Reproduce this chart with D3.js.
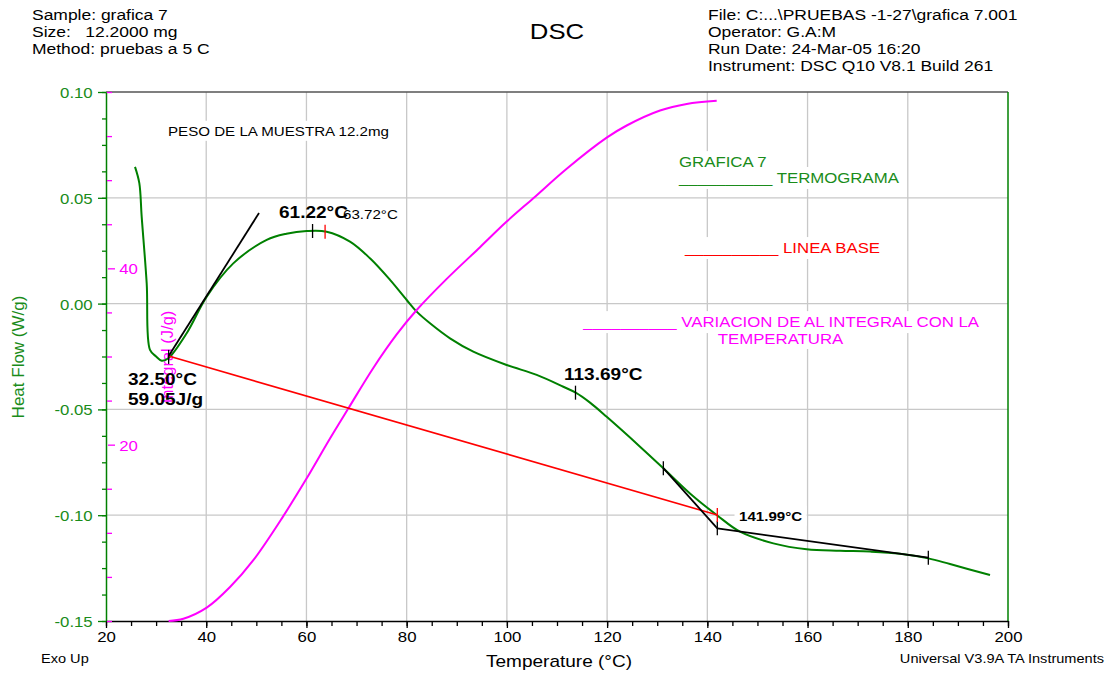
<!DOCTYPE html>
<html><head><meta charset="utf-8">
<script src="https://cdn.jsdelivr.net/npm/d3@7"></script>
<style>
body{margin:0;background:#fff}
svg{display:block}
text{font-family:"Liberation Sans",Arial,Helvetica,sans-serif}
</style>
</head><body>
<svg id="c" width="1114" height="675"></svg>
<script>
// ---------------- data ----------------
const heatT = [25.79, 26.65, 27.12, 28.12, 28.78, 30.0, 31.12, 32.45, 36.1, 40.10, 45.40, 52.07, 56.0, 60.05, 64.04, 68.69, 72.68, 76.68, 80.01, 82.00, 84.66, 88.65, 93.30, 99.96, 105.95, 111.26, 113.73, 116.59, 119.92, 126.57, 131.22, 136.54, 141.87, 146.52, 153.17, 159.83, 166.48, 172.5, 178.45, 184.10, 188.43, 196.41];
const heatW = [0.0646, 0.0569, 0.0411, 0.0096, -0.0219, -0.0250, -0.0270, -0.0258, -0.0140, 0.0033, 0.0190, 0.0301, 0.0330, 0.0343, 0.0340, 0.0293, 0.0214, 0.0112, 0.0017, -0.0038, -0.0093, -0.0164, -0.0227, -0.0290, -0.0337, -0.0393, -0.0421, -0.0468, -0.0535, -0.0676, -0.0778, -0.0897, -0.0999, -0.1078, -0.1133, -0.1161, -0.1168, -0.1172, -0.1182, -0.1204, -0.1231, -0.1283];

const intT = [32.5, 35.43, 40.10, 44.75, 49.40, 55.38, 60.05, 64.70, 68.35, 73.34, 78.01, 82.00, 87.99, 94.64, 99.96, 105.27, 111.94, 119.92, 123.91, 130.56, 135.88, 141.87];
const intJ = [0, 0.25, 1.51, 3.85, 6.9, 11.9, 16.18, 20.7, 24.1, 28.7, 32.5, 35.27, 38.8, 42.4, 45.3, 47.95, 51.3, 54.82, 56.2, 57.9, 58.65, 59.01];

const xTicks = [20, 40, 60, 80, 100, 120, 140, 160, 180, 200];
const xMinor = d3.range(20, 201, 5);
const yTicks = [-0.15, -0.10, -0.05, 0.00, 0.05, 0.10];
const yMinor = d3.range(-0.15, 0.1001, 0.0125);
const intTicks = d3.range(0, 61, 5);
const intLabels = [20, 40];

const baseT = [32.5, 141.99];
const baseW = [-0.0248, -0.0999];
const tangentT = [[32.5, 50.53], [131.22, 141.99], [141.99, 184.1]];
const tangentW = [[-0.0248, 0.0428], [-0.0778, -0.1062], [-0.1062, -0.1201]];
const blackMarkT = [32.5, 61.22, 113.69, 131.22, 141.99, 184.1];
const blackMarkW = [-0.0252, 0.0343, -0.0421, -0.0778, -0.1062, -0.1201];
const redMarkT = [63.72, 141.99];
const redMarkW = [0.0340, -0.0999];

const headerLeft = ["Sample: grafica 7", "Size:   12.2000 mg", "Method: pruebas a 5 C"];
const headerRight = ["File: C:...\\PRUEBAS -1-27\\grafica 7.001", "Operator: G.A:M", "Run Date: 24-Mar-05 16:20", "Instrument: DSC Q10 V8.1 Build 261"];

// annotation texts anchored in data coordinates (T, W/g)
const noteText = ["63.72°C", "61.22°C", "32.50°C", "59.05J/g", "113.69°C", "141.99°C"];
const noteT = [67.30, 54.52, 24.39, 24.39, 111.40, 146.32];
const noteW = [0.0402, 0.0405, -0.0385, -0.0479, -0.0359, -0.1027];

// ---------------- setup ----------------
const SX = 1.12;
const svg = d3.select("#c");
const x = d3.scaleLinear().domain([20, 200]).range([106, 1008]);
const y = d3.scaleLinear().domain([-0.15, 0.10]).range([621, 92]);
const yi = d3.scaleLinear().domain([0, 60]).range([621, 92]);

const GREEN = "#008000", GTEXT = "#1a8c1a", MAG = "#ff00ff", RED = "#ff0000";

function label(g, xp, yp, str, o) {
  const grp = g.append("g").attr("transform", `translate(${xp},${yp}) scale(${o.sx ?? SX},1)`);
  const t = grp.append("text")
    .attr("text-anchor", o.anchor || "start")
    .attr("font-size", o.size)
    .attr("font-weight", o.weight || "normal")
    .attr("fill", o.fill || "#000")
    .style("white-space", "pre")
    .attr("xml:space", "preserve")
    .text(str);
  if (o.bg) {
    const b = t.node().getBBox();
    grp.insert("rect", "text").attr("x", b.x - 4).attr("y", b.y - 3)
      .attr("width", b.width + 8).attr("height", b.height + 5).attr("fill", "#fff");
  }
  return grp;
}

// ---------------- header ----------------
headerLeft.forEach((s, i) => label(svg, 32, 20 + i * 17, s, {size: 15, sx: 1.165}));
headerRight.forEach((s, i) => label(svg, 708, 20 + i * 17, s, {size: 15, sx: 1.165}));
label(svg, 557, 39, "DSC", {size: 23, anchor: "middle"});

// ---------------- grid ----------------
const grid = svg.append("g");
grid.selectAll("line.v").data(xTicks.filter(d => d > 20 && d < 200)).join("line")
  .attr("x1", d => x(d)).attr("x2", d => x(d)).attr("y1", y(0.10)).attr("y2", y(-0.15))
  .attr("stroke", "#c8c8c8").attr("stroke-width", 1.3);
grid.selectAll("line.h").data(yTicks.filter(d => d > -0.15 && d < 0.10)).join("line")
  .attr("x1", x(20)).attr("x2", x(200)).attr("y1", d => y(d)).attr("y2", d => y(d))
  .attr("stroke", "#c8c8c8").attr("stroke-width", 1.3);

// ---------------- text with white background ----------------
const bgT = svg.append("g");
label(bgT, x(32.37), y(0.0792), "PESO DE LA MUESTRA 12.2mg", {size: 13.5, bg: true});
label(bgT, x(134.35), y(0.0644), "GRAFICA 7", {size: 15, fill: GTEXT, bg: true});
label(bgT, x(134.35), y(0.0569), "__________ TERMOGRAMA", {size: 15, fill: GTEXT, bg: true});
label(bgT, x(135.55), y(0.0238), "__________ LINEA BASE", {size: 15, fill: RED, bg: true});
label(bgT, x(115.25), y(-0.0112), "__________ VARIACION DE AL INTEGRAL CON LA", {size: 15, fill: MAG, bg: true});
label(bgT, x(142.07), y(-0.0192), "TEMPERATURA", {size: 15, fill: MAG, bg: true});

// ---------------- frame ----------------
svg.append("line").attr("x1", x(20)).attr("x2", x(200)).attr("y1", y(0.10)).attr("y2", y(0.10))
  .attr("stroke", "#555").attr("stroke-width", 1.3);
svg.append("line").attr("x1", x(200)).attr("x2", x(200)).attr("y1", y(0.10)).attr("y2", y(-0.15))
  .attr("stroke", GREEN).attr("stroke-width", 1.5);

// ---------------- axes ----------------
const gx = svg.append("g").attr("transform", `translate(0,${y(-0.15)})`);
gx.call(d3.axisBottom(x).tickValues(xMinor).tickSize(5).tickSizeOuter(0).tickFormat(""));
gx.call(g => g.selectAll(".tick line").attr("stroke", "#000").attr("stroke-width", 1.3));
const gx2 = svg.append("g").attr("transform", `translate(0,${y(-0.15)})`);
gx2.call(d3.axisBottom(x).tickValues(xTicks).tickSize(7).tickSizeOuter(0).tickFormat(d => String(d)));
gx2.call(g => {
  g.select(".domain").attr("stroke", "#000").attr("stroke-width", 1.5);
  g.selectAll(".tick line").attr("stroke", "#000").attr("stroke-width", 1.3);
  g.selectAll(".tick text").attr("y", 21).attr("dy", 0).attr("font-size", 15)
    .attr("font-family", null).attr("fill", "#000")
    .attr("transform", `scale(${SX},1)`);
});
label(svg, 559, 667, "Temperature (°C)", {size: 17, anchor: "middle"});

const gy = svg.append("g").attr("transform", `translate(${x(20)},0)`);
gy.call(d3.axisLeft(y).tickValues(yMinor).tickSize(4).tickSizeOuter(0).tickFormat(""));
gy.call(g => { g.select(".domain").remove(); g.selectAll(".tick line").attr("stroke", GREEN).attr("stroke-width", 1.3); });
const gy2 = svg.append("g").attr("transform", `translate(${x(20)},0)`);
gy2.call(d3.axisLeft(y).tickValues(yTicks).tickSize(8).tickSizeOuter(0).tickFormat(d => d.toFixed(2)));
gy2.call(g => {
  g.select(".domain").attr("stroke", GREEN).attr("stroke-width", 1.5);
  g.selectAll(".tick line").attr("stroke", GREEN).attr("stroke-width", 1.3);
  g.selectAll(".tick text").attr("x", -13.3 / SX).attr("dy", "0.36em").attr("font-size", 15)
    .attr("font-family", null).attr("fill", GTEXT)
    .attr("transform", `scale(${SX},1)`);
});
svg.append("text").attr("transform", `translate(24,357) rotate(-90)`)
  .attr("text-anchor", "middle").attr("font-size", 17).attr("fill", GTEXT).text("Heat Flow (W/g)");

const gi = svg.append("g").attr("transform", `translate(${x(20)},0)`);
gi.call(d3.axisRight(yi).tickValues(intTicks).tickSize(5).tickSizeOuter(0)
  .tickFormat(d => intLabels.includes(d) ? String(d) : ""));
gi.call(g => {
  g.select(".domain").remove();
  g.selectAll(".tick line").attr("stroke", MAG).attr("stroke-width", 1.3)
    .attr("x1", d => intLabels.includes(d) ? 2 : 1).attr("x2", d => intLabels.includes(d) ? 9 : 6);
  g.selectAll(".tick text").attr("x", 13.3 / SX).attr("dy", "0.36em").attr("font-size", 15)
    .attr("font-family", null).attr("fill", MAG)
    .attr("transform", `scale(${SX},1)`);
});
svg.append("text").attr("transform", `translate(173,357) rotate(-90)`)
  .attr("text-anchor", "middle").attr("font-size", 16.5).attr("fill", MAG).text("Integral (J/g)");

// ---------------- curves ----------------
const curves = svg.append("g");
const lineHF = d3.line().x(i => x(heatT[i])).y(i => y(heatW[i])).curve(d3.curveCatmullRom.alpha(0.5));
curves.append("path").attr("d", lineHF(d3.range(heatT.length)))
  .attr("fill", "none").attr("stroke", GREEN).attr("stroke-width", 2);

const lineInt = d3.line().x(i => x(intT[i])).y(i => yi(intJ[i])).curve(d3.curveCatmullRom.alpha(0.5));
curves.append("path").attr("d", lineInt(d3.range(intT.length)))
  .attr("fill", "none").attr("stroke", MAG).attr("stroke-width", 2);

curves.append("line").attr("x1", x(baseT[0])).attr("y1", y(baseW[0]))
  .attr("x2", x(baseT[1])).attr("y2", y(baseW[1]))
  .attr("stroke", RED).attr("stroke-width", 1.6);

tangentT.forEach((t, i) => {
  curves.append("line").attr("x1", x(t[0])).attr("y1", y(tangentW[i][0]))
    .attr("x2", x(t[1])).attr("y2", y(tangentW[i][1]))
    .attr("stroke", "#000").attr("stroke-width", 1.8);
});

blackMarkT.forEach((t, i) => {
  curves.append("line").attr("x1", x(t)).attr("x2", x(t))
    .attr("y1", y(blackMarkW[i]) - 7).attr("y2", y(blackMarkW[i]) + 7)
    .attr("stroke", "#000").attr("stroke-width", 1.3);
});
redMarkT.forEach((t, i) => {
  curves.append("line").attr("x1", x(t)).attr("x2", x(t))
    .attr("y1", y(redMarkW[i]) - 7).attr("y2", y(redMarkW[i]) + 7)
    .attr("stroke", RED).attr("stroke-width", 1.3);
});

// ---------------- annotations ----------------
const notes = svg.append("g");
label(notes, x(noteT[0]), y(noteW[0]), noteText[0], {size: 13.5});
label(notes, x(noteT[1]), y(noteW[1]), noteText[1], {size: 17, weight: "bold"});
label(notes, x(noteT[2]), y(noteW[2]), noteText[2], {size: 17, weight: "bold"});
label(notes, x(noteT[3]), y(noteW[3]), noteText[3], {size: 17, weight: "bold"});
label(notes, x(noteT[4]), y(noteW[4]), noteText[4], {size: 17, weight: "bold"});
label(notes, x(noteT[5]), y(noteW[5]), noteText[5], {size: 13.5, weight: "bold", bg: true});

// ---------------- footer ----------------
label(svg, 41, 663, "Exo Up", {size: 13});
label(svg, 1104, 663, "Universal V3.9A TA Instruments", {size: 13, anchor: "end"});
</script>
</body></html>
